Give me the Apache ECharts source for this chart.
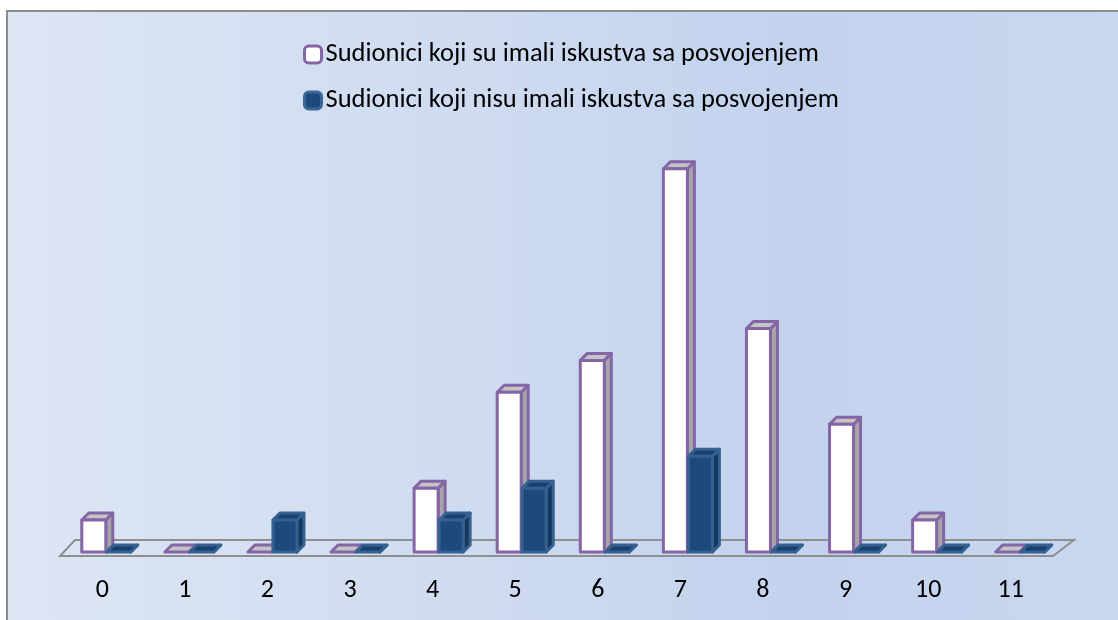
<!DOCTYPE html>
<html>
<head>
<meta charset="utf-8">
<script src="https://cdn.jsdelivr.net/npm/echarts@6/dist/echarts.min.js"></script>
<style>
  html, body { margin: 0; padding: 0; background: #ffffff; }
  #chart { width: 1118px; height: 620px; }
</style>
</head>
<body>
<div id="chart"></div>
<script>
var categories = ['0', '1', '2', '3', '4', '5', '6', '7', '8', '9', '10', '11'];
var withExperience = [1, 0, 0, 0, 2, 5, 6, 12, 7, 4, 1, 0];
var withoutExperience = [0, 0, 1, 0, 1, 2, 0, 3, 0, 0, 0, 0];
var seriesNames = [
	'Sudionici koji su imali iskustva sa posvojenjem',
	'Sudionici koji nisu imali iskustva sa posvojenjem'
];

var FONT = 'Carlito, Lato, sans-serif';

// crtanje jednog "3D" stupca (prednja strana, bok, vrh)
function makeBox(colors, shift) {
	return function (params, api) {
		var idx = api.value(0);
		var base = api.coord([idx, 0]);
		var top = api.coord([idx, api.value(1)]);
		var x0 = base[0] + shift + 0.5 * idx;
		var yb = base[1], yt = top[1];
		var w = 24, dx = 7, dy = -7;
		var line = {stroke: colors.border, lineWidth: 3, lineJoin: 'round'};
		var kids = [];
		kids.push({
			type: 'polygon',
			shape: {points: [[x0 + w, yt], [x0 + w + dx, yt + dy], [x0 + w + dx, yb + dy], [x0 + w, yb]]},
			style: Object.assign({fill: colors.side}, line)
		});
		kids.push({
			type: 'polygon',
			shape: {points: [[x0, yt], [x0 + dx, yt + dy], [x0 + w + dx, yt + dy], [x0 + w, yt]]},
			style: Object.assign({fill: colors.top}, line)
		});
		if (yb - yt > 1) {
			kids.push({
				type: 'rect',
				shape: {x: x0, y: yt, width: w, height: yb - yt},
				style: Object.assign({fill: colors.front}, line)
			});
		}
		return {type: 'group', children: kids};
	};
}

function toPairs(arr) {
	var out = [];
	for (var i = 0; i < arr.length; i++) {
		out.push([i, arr[i]]);
	}
	return out;
}

var purple = {front: '#ffffff', side: '#a6a6a6', top: '#c4c4c4', border: '#8465a6'};
var blue = {front: '#1f497d', side: '#17375e', top: '#1b4070', border: '#34618f'};

var myChart = echarts.init(document.getElementById('chart'));
var option = {
	backgroundColor: '#ffffff',
	animation: false,
	graphic: [
		{
			type: 'rect',
			z: -10,
			shape: {x: 7, y: 11, width: 1125, height: 625},
			style: {
				fill: new echarts.graphic.LinearGradient(0, 0, 1, 0, [
					{offset: 0, color: '#dee6f4'},
					{offset: 0.7, color: '#c3d3ee'},
					{offset: 1, color: '#c9d8f0'}
				]),
				stroke: '#8c8c8c',
				lineWidth: 2
			}
		},
		{
			type: 'polygon',
			z: -5,
			shape: {points: [[60, 556], [75, 540], [1074, 540], [1053, 556]]},
			style: {fill: 'rgba(0,0,0,0)', stroke: '#8f8f8f', lineWidth: 2}
		}
	],
	legend: {
		orient: 'vertical',
		left: 298,
		top: 36,
		itemWidth: 17,
		itemHeight: 17,
		itemGap: 19,
		textStyle: {fontFamily: FONT, fontSize: 26.5, color: '#000000', padding: [0, 0, 0, -1]},
		data: [
			{name: seriesNames[0], icon: 'roundRect', itemStyle: {color: '#ffffff', borderColor: '#8465a6', borderWidth: 3}},
			{name: seriesNames[1], icon: 'roundRect', itemStyle: {color: '#1f497d', borderColor: '#3a6797', borderWidth: 3}}
		]
	},
	grid: {left: 61, right: 66, top: 41, bottom: 68},
	xAxis: {
		type: 'category',
		data: categories,
		axisLine: {show: false},
		axisTick: {show: false},
		axisLabel: {margin: 25, fontFamily: FONT, fontSize: 26, color: '#000000'}
	},
	yAxis: {
		type: 'value',
		min: 0,
		max: 16,
		show: false,
		splitLine: {show: false}
	},
	series: [
		{
			name: seriesNames[0],
			type: 'custom',
			renderItem: makeBox(purple, -20.5),
			encode: {x: 0, y: 1},
			itemStyle: {color: '#ffffff', borderColor: '#8465a6'},
			data: toPairs(withExperience)
		},
		{
			name: seriesNames[1],
			type: 'custom',
			renderItem: makeBox(blue, 4.5),
			encode: {x: 0, y: 1},
			itemStyle: {color: '#1f497d'},
			data: toPairs(withoutExperience)
		}
	]
};
myChart.setOption(option);
</script>
</body>
</html>
